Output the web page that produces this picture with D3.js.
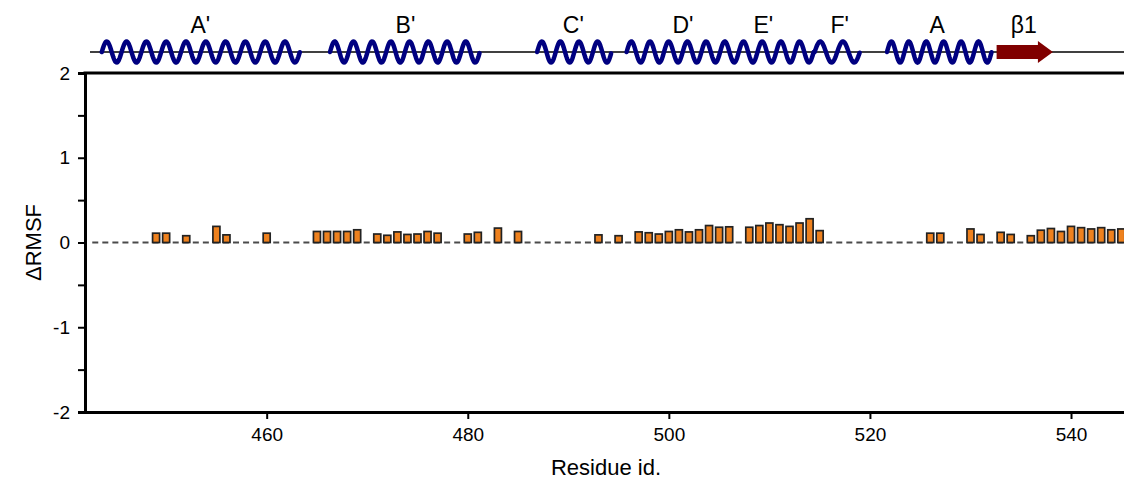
<!DOCTYPE html>
<html>
<head>
<meta charset="utf-8">
<script src="https://cdn.jsdelivr.net/npm/d3@7"></script>
<style>
  body { margin: 0; background: #fff; }
  svg { display: block; font-family: "Liberation Sans", Arial, sans-serif; }
</style>
</head>
<body>
<svg id="chart"></svg>
<script>
const WIDTH = 1124
const HEIGHT = 484

// residues with a non-zero ΔRMSF and their values
const residues = [449, 450, 452, 455, 456, 460, 465, 466, 467, 468, 469, 471, 472, 473, 474, 475, 476, 477,
  480, 481, 483, 485, 493, 495, 497, 498, 499, 500, 501, 502, 503, 504, 505, 506, 508, 509, 510, 511, 512,
  513, 514, 515, 526, 527, 530, 531, 533, 534, 536, 537, 538, 539, 540, 541, 542, 543, 544, 545]
const deltaRmsf = [0.11, 0.11, 0.08, 0.19, 0.09, 0.11, 0.13, 0.13, 0.13, 0.13, 0.15, 0.10, 0.085, 0.125, 0.095,
  0.10, 0.13, 0.11, 0.10, 0.12, 0.17, 0.13, 0.09, 0.08, 0.125, 0.115, 0.10, 0.13, 0.15, 0.125, 0.15, 0.20,
  0.18, 0.185, 0.18, 0.20, 0.23, 0.21, 0.19, 0.23, 0.28, 0.14, 0.11, 0.11, 0.16, 0.095, 0.12, 0.095, 0.08,
  0.145, 0.165, 0.13, 0.19, 0.175, 0.16, 0.175, 0.15, 0.16]

const xTicks = [460, 480, 500, 520, 540]
const yTicks = [-2, -1, 0, 1, 2]
const yMinorTicks = [-1.5, -0.5, 0.5, 1.5]

// secondary structure (residue ranges)
const helixStart = [443.6, 466.3, 486.9, 495.8, 514.5, 521.7]
const helixEnd = [463.3, 481.2, 494.3, 514.4, 519.0, 532.1]
const strandStart = [532.6]
const strandEnd = [538.2]
const ssLabels = ["A'", "B'", "C'", "D'", "E'", "F'", "A", "β1"]
const ssLabelPos = [453.4, 473.8, 490.5, 501.4, 509.4, 517.0, 526.7, 535.3]

const plotLeft = 85, plotTop = 73, plotBottom = 412

let svg = d3.select("#chart")
  .attr("width", WIDTH)
  .attr("height", HEIGHT)

let x = d3.scaleLinear()
  .domain([441.93, 545.27])
  .range([plotLeft, WIDTH])

let y = d3.scaleLinear()
  .domain([-2, 2])
  .range([plotBottom, plotTop])

let step = x(1) - x(0)
let barW = 7

// zero line, one dash per residue
let firstRes = 443
svg.append("line")
  .attr("x1", x(firstRes) - barW / 2)
  .attr("x2", WIDTH)
  .attr("y1", y(0))
  .attr("y2", y(0))
  .attr("stroke", "#4a4a4a")
  .attr("stroke-width", 2)
  .attr("stroke-dasharray", `${barW - 1} ${step - barW + 1}`)

// bars
svg.append("g")
  .selectAll("rect")
  .data(residues)
  .enter()
  .append("rect")
  .attr("x", (r) => x(r) - barW / 2)
  .attr("y", (r, i) => y(deltaRmsf[i]))
  .attr("width", barW)
  .attr("height", (r, i) => y(0) - y(deltaRmsf[i]))
  .attr("fill", "#EE811E")
  .attr("stroke", "#222")
  .attr("stroke-width", 1.7)

// axes
let yAxis = svg.append("g")
  .attr("transform", `translate(${plotLeft},0)`)
  .call(d3.axisLeft(y).tickValues(yTicks).tickSize(7).tickPadding(8).tickFormat(d => String(d)))
yAxis.select(".domain").attr("stroke-width", 3)

let yMinor = svg.append("g")
  .attr("transform", `translate(${plotLeft},0)`)
  .call(d3.axisLeft(y).tickValues(yMinorTicks).tickSize(7).tickFormat(""))
yMinor.select(".domain").remove()

let xAxis = svg.append("g")
  .attr("transform", `translate(0,${plotBottom})`)
  .call(d3.axisBottom(x).tickValues(xTicks).tickSize(7).tickPadding(9).tickSizeOuter(0))
xAxis.select(".domain").attr("stroke-width", 3)

svg.selectAll(".tick line").attr("stroke-width", 2)
svg.selectAll(".tick text")
  .style("font-size", "19px")
  .style("font-family", "Liberation Sans, Arial, sans-serif")
  .attr("fill", "#000")

// top frame
svg.append("line")
  .attr("x1", plotLeft - 1.5)
  .attr("x2", WIDTH)
  .attr("y1", plotTop)
  .attr("y2", plotTop)
  .attr("stroke", "#000")
  .attr("stroke-width", 3)

// axis titles
svg.append("text")
  .attr("x", 606)
  .attr("y", 475)
  .attr("text-anchor", "middle")
  .style("font-size", "22px")
  .text("Residue id.")

svg.append("text")
  .attr("transform", `translate(41,${y(0)}) rotate(-90)`)
  .attr("text-anchor", "middle")
  .style("font-size", "22px")
  .text("ΔRMSF")

// secondary structure track
let ssY = 52
svg.append("line")
  .attr("x1", 90)
  .attr("x2", WIDTH)
  .attr("y1", ssY)
  .attr("y2", ssY)
  .attr("stroke", "#000")
  .attr("stroke-width", 1.5)

let amp = 10.5
helixStart.forEach((s, i) => {
  let x0 = x(s), x1 = x(helixEnd[i])
  let n = Math.max(1, Math.round((x1 - x0) / 19))
  let period = (x1 - x0) / n
  let pts = d3.range(x0, x1 + 0.01, 0.5)
    .map(px => [px, ssY - amp * Math.sin(2 * Math.PI * (px - x0) / period)])
  svg.append("path")
    .attr("d", d3.line()(pts))
    .attr("fill", "none")
    .attr("stroke", "#000080")
    .attr("stroke-width", 4.5)
    .attr("stroke-linecap", "round")
})

strandStart.forEach((s, i) => {
  let x0 = x(s), x1 = x(strandEnd[i])
  let head = 15
  let pts = [[x0, ssY - 7], [x1 - head, ssY - 7], [x1 - head, ssY - 11], [x1, ssY],
    [x1 - head, ssY + 11], [x1 - head, ssY + 7], [x0, ssY + 7]]
  svg.append("path")
    .attr("d", d3.line()(pts) + "Z")
    .attr("fill", "#800000")
})

svg.append("g")
  .selectAll("text")
  .data(ssLabels)
  .enter()
  .append("text")
  .attr("x", (d, i) => x(ssLabelPos[i]))
  .attr("y", 33)
  .attr("text-anchor", "middle")
  .style("font-size", "23px")
  .text(d => d)
</script>
</body>
</html>
